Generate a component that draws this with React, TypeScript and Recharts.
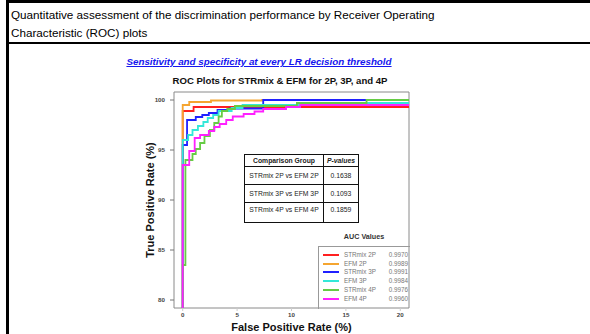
import React from "react";
import {
  LineChart,
  Line,
  XAxis,
  YAxis,
  ReferenceArea,
  Legend,
} from "recharts";

// ROC curves: each point = (FPR %, TPR %) where TPR rises at that FPR
const strmix2P = [
  { fpr: 0, tpr: 0 },
  { fpr: 0, tpr: 98.9 },
  { fpr: 1.0, tpr: 99.3 },
  { fpr: 21, tpr: 99.3 },
];
const efm2P = [
  { fpr: 0, tpr: 0 },
  { fpr: 0, tpr: 99.5 },
  { fpr: 0.6, tpr: 99.8 },
  { fpr: 2.6, tpr: 99.95 },
  { fpr: 7.3, tpr: 100 },
  { fpr: 21, tpr: 100 },
];
const strmix3P = [
  { fpr: 0, tpr: 0 },
  { fpr: 0, tpr: 95.5 },
  { fpr: 0.4, tpr: 98.0 },
  { fpr: 1.2, tpr: 98.3 },
  { fpr: 1.8, tpr: 98.5 },
  { fpr: 2.4, tpr: 98.7 },
  { fpr: 3.2, tpr: 99.0 },
  { fpr: 4.3, tpr: 99.15 },
  { fpr: 7.4, tpr: 100 },
  { fpr: 21, tpr: 100 },
];
const efm3P = [
  { fpr: 0, tpr: 0 },
  { fpr: 0, tpr: 96.0 },
  { fpr: 0.5, tpr: 96.5 },
  { fpr: 0.9, tpr: 97.0 },
  { fpr: 1.4, tpr: 97.4 },
  { fpr: 1.9, tpr: 97.8 },
  { fpr: 2.3, tpr: 98.2 },
  { fpr: 2.8, tpr: 98.5 },
  { fpr: 3.3, tpr: 98.9 },
  { fpr: 4.5, tpr: 99.2 },
  { fpr: 5.5, tpr: 99.5 },
  { fpr: 12.3, tpr: 99.7 },
  { fpr: 21, tpr: 99.7 },
];
const strmix4P = [
  { fpr: 0, tpr: 0 },
  { fpr: 0, tpr: 83.5 },
  { fpr: 0.25, tpr: 94.0 },
  { fpr: 0.9, tpr: 94.6 },
  { fpr: 1.2, tpr: 95.1 },
  { fpr: 1.6, tpr: 95.7 },
  { fpr: 2.0, tpr: 96.4 },
  { fpr: 2.5, tpr: 97.0 },
  { fpr: 2.9, tpr: 97.7 },
  { fpr: 3.3, tpr: 98.35 },
  { fpr: 3.6, tpr: 98.9 },
  { fpr: 4.1, tpr: 99.1 },
  { fpr: 4.8, tpr: 99.4 },
  { fpr: 10.5, tpr: 99.7 },
  { fpr: 16.9, tpr: 100 },
  { fpr: 21, tpr: 100 },
];
const efm4P = [
  { fpr: 0, tpr: 0 },
  { fpr: 0, tpr: 93.5 },
  { fpr: 0.6, tpr: 94.9 },
  { fpr: 1.1, tpr: 96.2 },
  { fpr: 1.6, tpr: 96.5 },
  { fpr: 2.4, tpr: 96.9 },
  { fpr: 2.9, tpr: 97.3 },
  { fpr: 3.4, tpr: 97.6 },
  { fpr: 4.0, tpr: 98.0 },
  { fpr: 4.6, tpr: 98.35 },
  { fpr: 5.6, tpr: 98.6 },
  { fpr: 6.6, tpr: 98.85 },
  { fpr: 7.4, tpr: 99.1 },
  { fpr: 9.5, tpr: 99.3 },
  { fpr: 10.8, tpr: 99.5 },
  { fpr: 21, tpr: 99.5 },
];

const seriesNames = ["STRmix 2P", "EFM 2P", "STRmix 3P", "EFM 3P", "STRmix 4P", "EFM 4P"];
const seriesData = [strmix2P, efm2P, strmix3P, efm3P, strmix4P, efm4P];
const seriesColors = ["#ff2020", "#f5a530", "#2020ff", "#33e8d8", "#66cc44", "#ff20ff"];
const aucValues = ["0.9970", "0.9989", "0.9991", "0.9984", "0.9976", "0.9960"];

const comparisonGroups = ["STRmix 2P vs EFM 2P", "STRmix 3P vs EFM 3P", "STRmix 4P vs EFM 4P"];
const pValues = ["0.1638", "0.1093", "0.1859"];

const fprTicks = [0, 5, 10, 15, 20];
const tprTicks = [80, 85, 90, 95, 100];

const FONT = "'Liberation Sans', Arial, sans-serif";

// legend box keeps the series order of the arrays (not recharts' sorted payload)
function AucLegend() {
  return (
    <div style={{ fontFamily: FONT, position: "relative", width: 92, height: 76 }}>
      <div
        style={{
          position: "absolute",
          top: 1,
          left: 0,
          width: 92,
          textAlign: "center",
          fontSize: 7.2,
          fontWeight: "bold",
          color: "#333",
          lineHeight: "8px",
        }}
      >
        AUC Values
      </div>
      <div
        style={{
          position: "absolute",
          top: 14,
          left: 0,
          width: 91,
          height: 62,
          borderLeft: "1px solid #999",
          borderTop: "1px solid #999",
        }}
      >
        {seriesNames.map((name, i) => (
          <div
            key={name}
            style={{
              position: "absolute",
              top: 4 + i * 8.7,
              left: 0,
              width: 91,
              height: 8,
              fontSize: 6.3,
              color: "#777",
              lineHeight: "8px",
              whiteSpace: "nowrap",
            }}
          >
            <span
              style={{
                position: "absolute",
                left: 4,
                top: 3,
                width: 16,
                height: 2,
                background: seriesColors[i],
              }}
            />
            <span style={{ position: "absolute", left: 25 }}>{name}</span>
            <span style={{ position: "absolute", right: 2 }}>{aucValues[i]}</span>
          </div>
        ))}
      </div>
    </div>
  );
}

function PValueTable() {
  const cell: React.CSSProperties = {
    border: "1px solid #111",
    padding: 0,
    fontSize: 6.8,
    textAlign: "center",
    color: "#222",
  };
  return (
    <table
      style={{
        position: "absolute",
        left: 244,
        top: 154,
        width: 115,
        borderCollapse: "collapse",
        fontFamily: FONT,
        background: "#fff",
      }}
    >
      <tbody>
        <tr style={{ height: 12 }}>
          <td style={{ ...cell, width: 78, fontWeight: "bold" }}>Comparison Group</td>
          <td style={{ ...cell, fontWeight: "bold", fontStyle: "italic" }}>P-values</td>
        </tr>
        {comparisonGroups.map((g, i) => (
          <tr key={g} style={{ height: i === 2 ? 20 : 18 }}>
            <td style={{ ...cell, verticalAlign: i === 2 ? "top" : "middle", paddingTop: i === 2 ? 3 : 0 }}>{g}</td>
            <td style={{ ...cell, verticalAlign: i === 2 ? "top" : "middle", paddingTop: i === 2 ? 3 : 0 }}>
              {pValues[i]}
            </td>
          </tr>
        ))}
      </tbody>
    </table>
  );
}

export default function App() {
  return (
    <div
      style={{
        position: "absolute",
        left: 0,
        top: 0,
        width: 590,
        height: 334,
        background: "#fff",
        overflow: "hidden",
        fontFamily: FONT,
      }}
    >
      {/* frame */}
      <div
        style={{
          position: "absolute",
          left: 6,
          top: 0,
          width: 600,
          height: 340,
          borderLeft: "3px solid #000",
          borderTop: "3px solid #000",
        }}
      />
      <div style={{ position: "absolute", left: 6, top: 42, width: 600, height: 2, background: "#000" }} />
      <div
        style={{
          position: "absolute",
          left: 11,
          top: 6,
          fontSize: 11.7,
          lineHeight: "18px",
          color: "#000",
        }}
      >
        Quantitative assessment of the discrimination performance by Receiver Operating
        <br />
        Characteristic (ROC) plots
      </div>
      <div
        style={{
          position: "absolute",
          left: 0,
          width: 518,
          top: 56,
          textAlign: "center",
          fontSize: 9.8,
          fontWeight: "bold",
          fontStyle: "italic",
          textDecoration: "underline",
          color: "#1515ee",
        }}
      >
        Sensitivity and specificity at every LR decision threshold
      </div>
      <div
        style={{
          position: "absolute",
          left: 0,
          width: 560,
          top: 75,
          textAlign: "center",
          fontSize: 9.6,
          fontWeight: "bold",
          color: "#111",
        }}
      >
        ROC Plots for STRmix &amp; EFM for 2P, 3P, and 4P
      </div>

      <div style={{ position: "absolute", left: 0, top: 0 }}>
        <LineChart
          width={590}
          height={334}
          margin={{ top: 92, right: 181, bottom: 0, left: 150 }}
        >
          <XAxis
            type="number"
            dataKey="fpr"
            domain={[-0.8, 20.8]}
            ticks={fprTicks}
            allowDataOverflow
            axisLine={false}
            tickSize={3}
            tickMargin={2}
            height={26}
            tickLine={{ stroke: "#ccc" }}
            tick={{ fontSize: 6.2, fontWeight: "bold", fill: "#444", fontFamily: FONT }}
            label={{
              value: "False Positive Rate (%)",
              position: "insideBottom",
              offset: 3,
              style: { fontSize: 11, fontWeight: "bold", fill: "#111", fontFamily: FONT },
            }}
          />
          <YAxis
            type="number"
            dataKey="tpr"
            domain={[79.2, 100.8]}
            ticks={tprTicks}
            allowDataOverflow
            axisLine={false}
            width={24}
            tickSize={4}
            tickMargin={5}
            tickLine={{ stroke: "#777" }}
            tick={{ fontSize: 6.2, fontWeight: "bold", fill: "#444", fontFamily: FONT }}
            label={{
              value: "True Positive Rate (%)",
              angle: -90,
              position: "insideLeft",
              offset: 0,
              style: { textAnchor: "middle", fontSize: 11, fontWeight: "bold", fill: "#111", fontFamily: FONT },
            }}
          />
          <ReferenceArea
            x1={-0.8}
            x2={20.8}
            y1={79.2}
            y2={100.8}
            fill="none"
            stroke="#8a8a8a"
            strokeWidth={1}
          />
          {seriesNames.map((name, i) => (
            <Line
              key={name}
              name={name}
              data={seriesData[i]}
              dataKey="tpr"
              type="stepAfter"
              stroke={seriesColors[i]}
              strokeWidth={1.8}
              dot={false}
              isAnimationActive={false}
            />
          ))}
          <Legend
            layout="vertical"
            align="center"
            verticalAlign="middle"
            wrapperStyle={{ left: 318, top: 232, width: 92, height: 76 }}
            content={<AucLegend />}
          />
        </LineChart>
      </div>
      <PValueTable />
    </div>
  );
}
